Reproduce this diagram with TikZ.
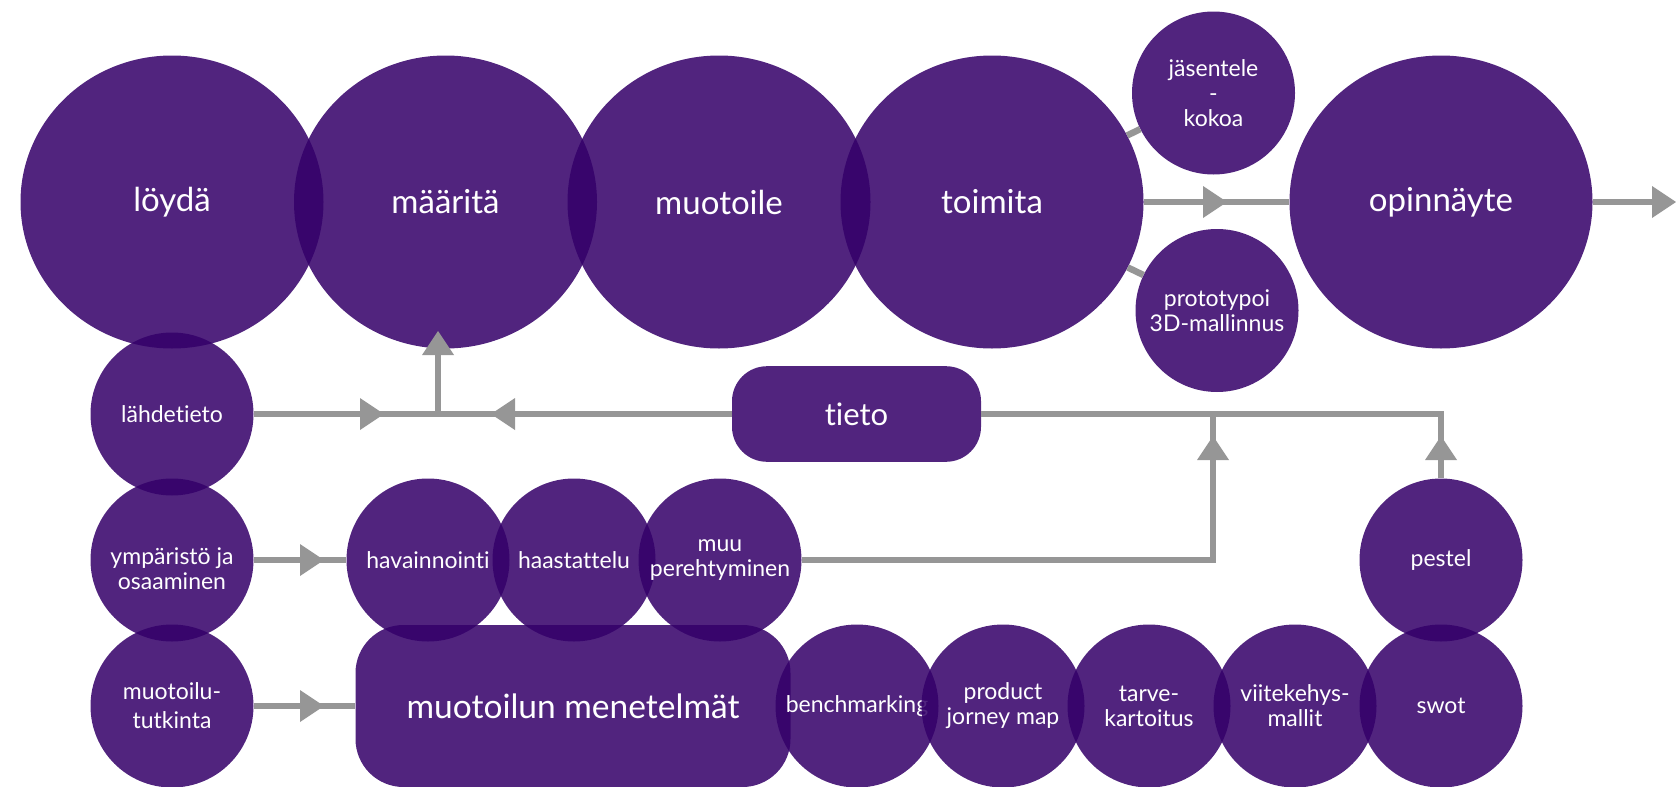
\documentclass[tikz,border=0pt]{standalone}
\usepackage{fontspec}
\setmainfont{Lato}[Ligatures={NoCommon,NoContextual}]
\usetikzlibrary{arrows.meta,shapes.geometric}
\definecolor{plum}{RGB}{52,0,105}
\definecolor{wire}{RGB}{150,150,150}

\begin{document}
\begin{tikzpicture}[x=1pt,y=-1pt,
  blob/.style={fill=plum, fill opacity=0.86, text opacity=1, text=white,
               inner sep=0pt, align=center},
  big/.style={blob, ellipse, minimum width=303pt, minimum height=293pt,
              font=\fontsize{33}{39}\selectfont},
  small/.style={blob, circle, minimum size=163pt,
                font=\fontsize{23}{25}\selectfont},
  pill/.style={blob, rectangle, rounded corners=#1},
  wireline/.style={draw=wire, line width=6.5pt},
  tri/.style={-{Triangle[length=24pt,width=32pt,line width=0pt]}},
]
\useasboundingbox (0,0) rectangle (1676,787);

% main process chain
\node[big] (loyda)    at (172,202)   {löydä};
\node[big] (maarita)  at (445.5,202) {määritä};
\node[big] (muotoile) at (719,202)   {muotoile};
\node[big] (toimita)  at (992,202)   {toimita};
\node[big] (opin)     at (1441,202)  {opinnäyte};
\node[small] (jas)    at (1213.5,93)  {jäsentele\\-\\kokoa};
\node[small] (proto)  at (1217,310.5) {prototypoi\\3D-mallinnus};

% sources
\node[small] (lahde) at (172,414) {lähdetieto};
\node[small] (ymp)   at (172,560) {\rule{0pt}{35pt}ympäristö ja\\osaaminen};
\node[small] (mtut)  at (172,706) {muotoilu-\\[4pt]tutkinta};

\node[small] (hav)  at (428,560) {havainnointi};
\node[small] (haas) at (574,560) {haastattelu};
\node[small] (muu)  at (720,560) {muu\\perehtyminen};

\node[pill=35pt, minimum width=249pt, minimum height=95.6pt,
      font=\fontsize{31}{36}\selectfont] (tieto) at (856.5,414) {tieto};
\node[pill=48pt, minimum width=435pt, minimum height=162pt,
      font=\fontsize{33.5}{40}\selectfont] (menet) at (573,706) {muotoilun menetelmät};

\node[small] (bench)  at (857,706)  {benchmarking};
\node[small] (prod)   at (1003,706) {product\\jorney map};
\node[small] (tarve)  at (1149,706) {tarve-\\kartoitus};
\node[small] (viite)  at (1295,706) {viitekehys-\\mallit};
\node[small] (swot)   at (1441,706) {swot};
\node[small] (pestel) at (1441,560) {pestel};

% junctions and arrow tips
\coordinate (jA) at (438,414);
\coordinate (tA) at (384,414);
\coordinate (tB) at (491,414);
\coordinate (tC) at (438,331);
\coordinate (j2) at (1213,414);
\coordinate (tD) at (1213,436);
\coordinate (j3) at (1441,414);
\coordinate (tE) at (1441,436);
\coordinate (j4) at (1213,560);
\coordinate (tF) at (324,560);
\coordinate (tG) at (324,706);
\coordinate (tH) at (1227,202);
\coordinate (tI) at (1676,202);

% connectors: full shaft first, arrowhead on top
\draw[wireline] (toimita) -- (jas);
\draw[wireline] (toimita) -- (proto);
\draw[wireline] (toimita) -- (opin);
\draw[wireline,tri] (toimita) -- (tH);
\draw[wireline,tri] (opin) -- (tI);

\draw[wireline] (lahde) -- (jA);
\draw[wireline,tri] (lahde) -- (tA);
\draw[wireline] (tieto.west) -- (jA);
\draw[wireline,tri] (tieto.west) -- (tB);
\draw[wireline,tri] (jA) -- (tC);

\draw[wireline] (muu) -- (j4) -- (j2);
\draw[wireline,tri] (j4) -- (tD);
\draw[wireline] (pestel) -- (j3) -- (tieto.east);
\draw[wireline,tri] (pestel) -- (tE);

\draw[wireline] (ymp) -- (hav);
\draw[wireline,tri] (ymp) -- (tF);
\draw[wireline] (mtut) -- (menet);
\draw[wireline,tri] (mtut) -- (tG);
\end{tikzpicture}
\end{document}
